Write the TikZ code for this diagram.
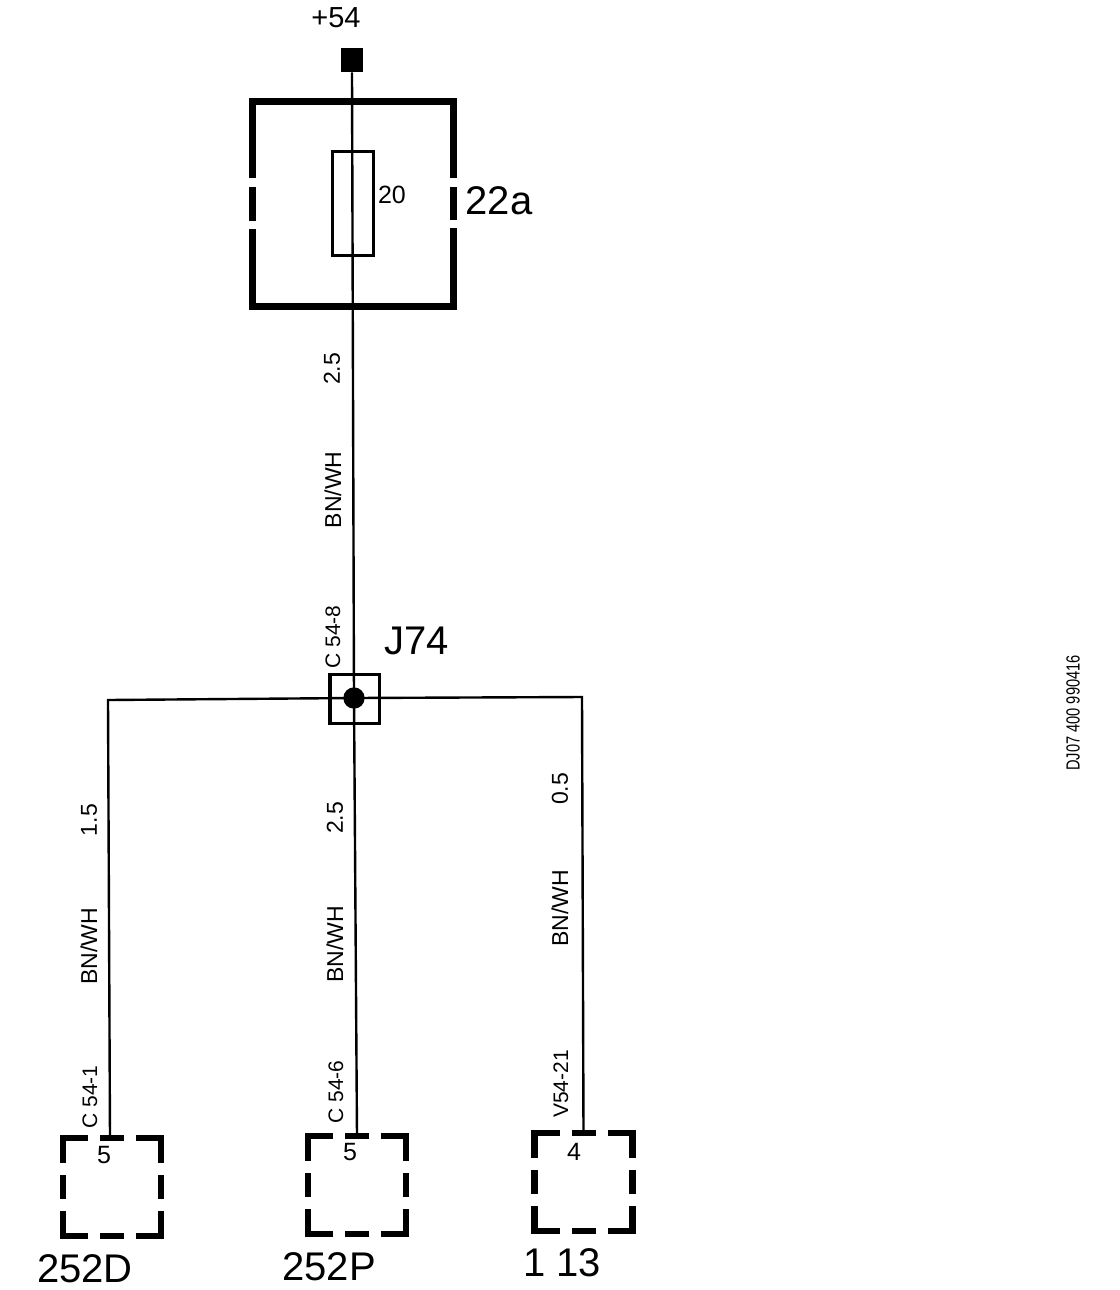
\documentclass[tikz,border=0pt]{standalone}
\usepackage{fontspec}
\setmainfont{Liberation Sans}
\newcommand{\fs}[1]{\fontsize{\dimexpr #1pt*3/4\relax}{\dimexpr #1pt\relax}\selectfont}
\newcommand{\connbox}[3]{%
  \node[anchorbox] (#1) at (#2,#3) {};
  \begin{scope}[shift={(#2,#3)}]
    \draw[cline] (-49,-24) -- (-49,-49) -- (-24,-49);
    \draw[cline] (-12,-49) -- (12,-49);
    \draw[cline] (24,-49) -- (49,-49) -- (49,-24);
    \draw[cline] (49,-12) -- (49,12);
    \draw[cline] (49,24) -- (49,49) -- (24,49);
    \draw[cline] (12,49) -- (-12,49);
    \draw[cline] (-24,49) -- (-49,49) -- (-49,24);
    \draw[cline] (-49,12) -- (-49,-12);
  \end{scope}}
\tikzset{
  wire/.style={line width=1.8pt},
  cline/.style={line width=4.9pt,line cap=butt,miter limit=10},
  anchorbox/.style={minimum size=73.5pt,inner sep=0pt,outer sep=0pt},
  huge/.style={inner sep=0pt,font=\fs{40}},
  big/.style={inner sep=0pt,font=\fs{29}},
  mid/.style={inner sep=0pt,font=\fs{25}},
  vlab/.style={inner sep=0pt,rotate=90,font=\fs{23}},
  vcode/.style={inner sep=0pt,rotate=90,font=\fs{21}},
}
\begin{document}
\begin{tikzpicture}[x=0.75pt,y=-0.75pt]
\useasboundingbox (0,0) rectangle (1120,1290);
% terminal
\node[fill=black,inner sep=0pt,minimum width=16.5pt,minimum height=18pt] (term) at (352,60) {};
\node[big] (l54) at (336,18) {+54};
% fuse housing
\draw[line width=5.25pt,line cap=butt] (252.5,178) -- (252.5,101.5) -- (453.5,101.5) -- (453.5,178);
\draw[line width=5.25pt,line cap=butt] (252.5,187) -- (252.5,221);
\draw[line width=5.25pt,line cap=butt] (453.5,187) -- (453.5,220);
\draw[line width=5.25pt,line cap=butt] (252.5,229) -- (252.5,306.5) -- (453.5,306.5) -- (453.5,228);
\node[draw,line width=2.1pt,inner sep=0pt,minimum width=30.5pt,minimum height=77.5pt] (fuse) at (353,203.5) {};
\node[mid] (l20) at (392,195) {20};
\node[huge] (l22a) at (499,201) {22a};
% junction
\node[draw,line width=2.5pt,inner sep=0pt,minimum width=37pt,minimum height=37pt] (jbox) at (354.5,699) {};
\node[circle,fill=black,inner sep=0pt,minimum size=16pt] (jdot) at (354,698) {};
\node[huge] (lj74) at (417,641) {J74};
% connector blocks
\connbox{c1}{112}{1187}
\connbox{c2}{357}{1185}
\connbox{c3}{583.5}{1182}
% wires
\coordinate (corner1) at (108,700);
\coordinate (corner3) at (582,697);
\draw[wire] (term.south) -- (jdot.center);
\draw[wire] (jdot.center) -- (corner1) -- (c1.north -| 110,0);
\draw[wire] (jdot.center) -- (c2.north);
\draw[wire] (jdot.center) -- (corner3) -- (c3.north);
% wire labels
\node[vlab] (a1) at (332,369) {2.5};
\node[vlab] (a2) at (333,490) {BN/WH};
\node[vcode] (a3) at (333,637) {C 54-8};
\node[vlab] (b1) at (89,820) {1.5};
\node[vlab] (b2) at (89,946) {BN/WH};
\node[vcode] (b3) at (90,1097) {C 54-1};
\node[vlab] (m1) at (335,818) {2.5};
\node[vlab] (m2) at (335,944) {BN/WH};
\node[vcode] (m3) at (336,1092) {C 54-6};
\node[vlab] (r1) at (560,789) {0.5};
\node[vlab] (r2) at (560,908) {BN/WH};
\node[vcode] (r3) at (561,1084) {V54-21};
% pin numbers
\node[mid] (p1) at (104,1155) {5};
\node[mid] (p2) at (350,1152) {5};
\node[mid] (p3) at (574,1152) {4};
% block names
\node[huge] (n1) at (85,1269) {252D};
\node[huge] (n2) at (329,1267) {252P};
\node[huge] (n3) at (562,1263) {1 13};
% drawing code
\node[inner sep=0pt,rotate=90] (code) at (1073,713) {\fs{19}\scalebox{0.77}[1]{DJ07 400 990416}};
\end{tikzpicture}
\end{document}
